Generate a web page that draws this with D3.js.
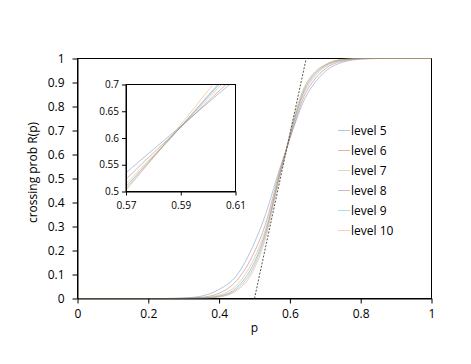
<!DOCTYPE html>
<html>
<head>
<meta charset="utf-8">
<script src="https://cdn.jsdelivr.net/npm/d3@7"></script>
<style>
  body { margin: 0; background: #fff; }
  svg { font-family: "Open Sans", "Liberation Sans", sans-serif; }
</style>
</head>
<body>
<svg id="chart" width="471" height="364"></svg>
<script>
// ---- data ----
const pValues = [0, 0.25, 0.3, 0.35, 0.4, 0.45, 0.5, 0.53, 0.57, 0.59, 0.61, 0.64, 0.67, 0.7, 0.75, 0.8, 0.85, 1];
const seriesNames = ["level 5", "level 6", "level 7", "level 8", "level 9", "level 10"];
const level5  = [0, 0, 0.002, 0.01, 0.038, 0.097, 0.233, 0.345, 0.535, 0.622, 0.709, 0.826, 0.898, 0.946, 0.985, 0.997, 1, 1];
const level6  = [0, 0, 0.001, 0.005, 0.022, 0.075, 0.195, 0.305, 0.523, 0.620, 0.716, 0.842, 0.913, 0.957, 0.990, 0.999, 1, 1];
const level7  = [0, 0, 0.0005, 0.003, 0.014, 0.057, 0.170, 0.283, 0.514, 0.620, 0.726, 0.855, 0.925, 0.965, 0.993, 1, 1, 1];
const level8  = [0, 0, 0, 0.002, 0.010, 0.046, 0.152, 0.270, 0.509, 0.621, 0.732, 0.864, 0.933, 0.970, 0.995, 1, 1, 1];
const level9  = [0, 0, 0, 0.001, 0.008, 0.039, 0.138, 0.258, 0.505, 0.621, 0.736, 0.872, 0.939, 0.973, 0.996, 1, 1, 1];
const level10 = [0, 0, 0, 0.0005, 0.006, 0.033, 0.125, 0.245, 0.502, 0.625, 0.749, 0.879, 0.944, 0.975, 0.997, 1, 1, 1];
const seriesValues = [level5, level6, level7, level8, level9, level10];
const seriesColors = ["#4F81BD", "#C0504D", "#9BBB59", "#8064A2", "#4BACC6", "#F79646"];
const tangentP = [0.5, 0.646];
const tangentR = [0, 1];
const xTicks = [0, 0.2, 0.4, 0.6, 0.8, 1];
const yTicks = [0, 0.1, 0.2, 0.3, 0.4, 0.5, 0.6, 0.7, 0.8, 0.9, 1];
const insetXTicks = [0.57, 0.59, 0.61];
const insetYTicks = [0.5, 0.55, 0.6, 0.65, 0.7];

// ---- layout ----
const svg = d3.select("#chart");
const plot = { left: 77.5, right: 431.5, top: 58.5, bottom: 298.5 };
const x = d3.scaleLinear().domain([0, 1]).range([plot.left, plot.right]);
const y = d3.scaleLinear().domain([0, 1]).range([plot.bottom, plot.top]);

const series = seriesNames.map((name, i) => ({
  name, color: seriesColors[i],
  points: pValues.map((p, j) => ({ p, r: seriesValues[i][j] }))
}));

// frame
svg.append("rect")
  .attr("x", plot.left).attr("y", plot.top)
  .attr("width", plot.right - plot.left).attr("height", plot.bottom - plot.top)
  .attr("fill", "none").attr("stroke", "#000").attr("stroke-width", 1);

// clip for main curves
svg.append("clipPath").attr("id", "mainclip").append("rect")
  .attr("x", plot.left).attr("y", plot.top - 1)
  .attr("width", plot.right - plot.left).attr("height", plot.bottom - plot.top + 2);

const line = d3.line().x(d => x(d.p)).y(d => y(d.r)).curve(d3.curveMonotoneX);
const gMain = svg.append("g").attr("clip-path", "url(#mainclip)");
gMain.selectAll("path.s").data(series).join("path")
  .attr("class", "s")
  .attr("d", d => line(d.points))
  .attr("fill", "none").attr("stroke", d => d.color)
  .attr("stroke-width", 0.75).attr("stroke-opacity", 0.6);

// tangent dashed line
gMain.append("path")
  .attr("d", d3.line().x(d => x(d[0])).y(d => y(d[1]))(tangentP.map((p, i) => [p, tangentR[i]])))
  .attr("fill", "none").attr("stroke", "#555").attr("stroke-width", 1)
  .attr("stroke-dasharray", "2,1.5");

// axes
const xAxis = svg.append("g").attr("transform", `translate(0,${plot.bottom})`)
  .call(d3.axisBottom(x).tickValues(xTicks).tickFormat(d3.format("")).tickSize(5).tickSizeOuter(0));
const yAxis = svg.append("g").attr("transform", `translate(${plot.left},0)`)
  .call(d3.axisLeft(y).tickValues(yTicks).tickFormat(d3.format("")).tickSize(5).tickSizeOuter(0));
[xAxis, yAxis].forEach(g => {
  g.select(".domain").attr("stroke", "#000");
  g.selectAll(".tick line").attr("stroke", "#000");
  g.selectAll(".tick text").attr("fill", "#000").attr("font-size", 12)
    .attr("font-family", "'Open Sans', sans-serif");
});
xAxis.selectAll(".tick text").attr("dy", "0.75em").attr("y", 10);
yAxis.selectAll(".tick text").attr("x", -13);

// axis titles
svg.append("text").attr("x", x(0.5)).attr("y", 332).attr("text-anchor", "middle")
  .attr("font-size", 12).attr("fill", "#000").text("p");
svg.append("text").attr("transform", `translate(37,${(plot.top + plot.bottom) / 2 - 6}) rotate(-90)`)
  .attr("text-anchor", "middle").attr("font-size", 12).attr("fill", "#000").text("crossing prob R(p)");

// ---- inset ----
const inset = { left: 126, right: 235.5, top: 84.5, bottom: 191.5 };
const xi = d3.scaleLinear().domain([0.57, 0.61]).range([inset.left, inset.right]);
const yi = d3.scaleLinear().domain([0.5, 0.7]).range([inset.bottom, inset.top]);
svg.append("rect").attr("x", inset.left).attr("y", inset.top)
  .attr("width", inset.right - inset.left).attr("height", inset.bottom - inset.top)
  .attr("fill", "#fff").attr("stroke", "#000").attr("stroke-width", 1);
svg.append("clipPath").attr("id", "insetclip").append("rect")
  .attr("x", inset.left).attr("y", inset.top)
  .attr("width", inset.right - inset.left).attr("height", inset.bottom - inset.top);
const lineI = d3.line().x(d => xi(d.p)).y(d => yi(d.r)).curve(d3.curveMonotoneX);
svg.append("g").attr("clip-path", "url(#insetclip)")
  .selectAll("path").data(series).join("path")
  .attr("d", d => lineI(d.points))
  .attr("fill", "none").attr("stroke", d => d.color)
  .attr("stroke-width", 0.75).attr("stroke-opacity", 0.6);
const xiAxis = svg.append("g").attr("transform", `translate(0,${inset.bottom})`)
  .call(d3.axisBottom(xi).tickValues(insetXTicks).tickFormat(d3.format("")).tickSize(4).tickSizeOuter(0));
const yiAxis = svg.append("g").attr("transform", `translate(${inset.left},0)`)
  .call(d3.axisLeft(yi).tickValues(insetYTicks).tickFormat(d3.format("")).tickSize(4).tickSizeOuter(0));
[xiAxis, yiAxis].forEach(g => {
  g.select(".domain").attr("stroke", "#000");
  g.selectAll(".tick line").attr("stroke", "#000");
  g.selectAll(".tick text").attr("fill", "#000").attr("font-size", 10)
    .attr("font-family", "'Open Sans', sans-serif");
});
xiAxis.selectAll(".tick text").attr("y", 10);
yiAxis.selectAll(".tick text").attr("x", -7);

// ---- legend ----
const legend = svg.append("g");
series.forEach((s, i) => {
  const ly = 130.5 + i * 20;
  legend.append("line").attr("x1", 338).attr("x2", 350).attr("y1", ly).attr("y2", ly)
    .attr("stroke", s.color).attr("stroke-width", 0.75).attr("stroke-opacity", 0.6);
  legend.append("text").attr("x", 351).attr("y", ly).attr("dy", "0.35em")
    .attr("font-size", 12).attr("fill", "#000").text(s.name);
});
</script>
</body>
</html>
